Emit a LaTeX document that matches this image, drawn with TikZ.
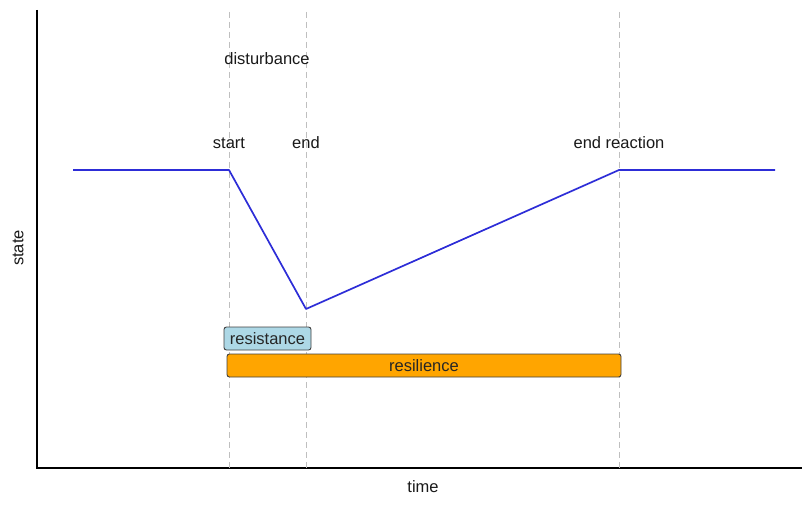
\documentclass[tikz,border=0pt]{standalone}
\usepackage{fontspec}
\setmainfont{Liberation Sans}
\begin{document}
\begin{tikzpicture}[x=1pt,y=-1pt,
  every node/.style={font=\fontsize{16.5}{19}\selectfont, inner sep=0pt},
  guide/.style={draw=black!25, line width=1pt, dash pattern=on 6pt off 4pt},
  curve/.style={draw={rgb,255:red,45;green,45;blue,215}, line width=1.7pt, line join=round},
  axisline/.style={draw=black, line width=1.4pt},
  bar/.style={draw=black!75, line width=0.9pt, rounded corners=2.5pt, text=black!85},
  lbl/.style={text=black!90}]
\useasboundingbox (0,0) rectangle (802,505);
% axes
\coordinate (ytop) at (37,10);
\coordinate (orig) at (37,468);
\coordinate (xend) at (802,468);
\draw[axisline] (ytop) -- (orig) -- (xend);
% guides
\coordinate (g1t) at (229,12); \coordinate (g1b) at (229,468);
\coordinate (g2t) at (306,12); \coordinate (g2b) at (306,468);
\coordinate (g3t) at (619,12); \coordinate (g3b) at (619,468);
\draw[guide] (g1t) -- (g1b);
\draw[guide] (g2t) -- (g2b);
\draw[guide] (g3t) -- (g3b);
% curve
\coordinate (p0) at (73,170);
\coordinate (p1) at (229,170);
\coordinate (p2) at (306,309);
\coordinate (p3) at (619,170);
\coordinate (p4) at (775,170);
\draw[curve] (p0) -- (p1) -- (p2) -- (p3) -- (p4);
% labels
\node[lbl] (dist) at (267,59) {disturbance};
\node[lbl] (start) at (229,143) {start};
\node[lbl] (endl) at (306,143) {end};
\node[lbl] (endr) at (619,143) {end reaction};
\node[lbl] (time) at (423,487) {time};
\node[lbl, rotate=90] (state) at (18,248) {state};
% bars
\node[bar, fill={rgb,255:red,255;green,165;blue,0}, minimum width=394pt, minimum height=23pt] (resil) at (424,365.5) {resilience};
\node[bar, fill={rgb,255:red,173;green,216;blue,230}, minimum width=87pt, minimum height=23pt] (resist) at (267.5,338.5) {resistance};
\end{tikzpicture}
\end{document}
